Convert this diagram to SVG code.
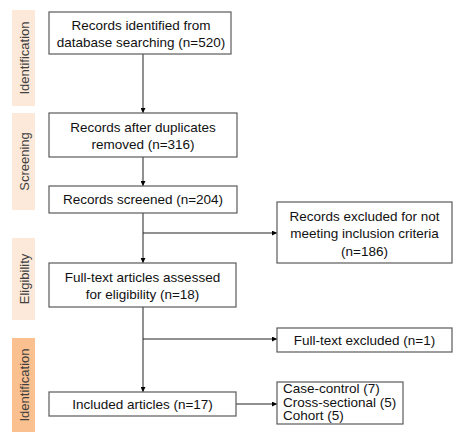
<svg xmlns="http://www.w3.org/2000/svg" width="459" height="438" viewBox="0 0 459 438">
<defs>
<marker id="ah" viewBox="0 0 8 8" refX="8" refY="4" markerWidth="5" markerHeight="5" orient="auto" markerUnits="userSpaceOnUse">
<path d="M0,0 L8,4 L0,8 z" fill="#000"/>
</marker>
<style>
.box{fill:#fff;stroke:#5a5a5a;stroke-width:1.2}
.t{font-family:"Liberation Sans",Arial,sans-serif;font-size:13.5px;fill:#111;text-anchor:middle}
.tl{font-family:"Liberation Sans",Arial,sans-serif;font-size:13.5px;fill:#111;text-anchor:start}
.lab{font-family:"Liberation Sans",Arial,sans-serif;font-size:13px;fill:#404040;text-anchor:middle}
.c{stroke:#222;stroke-width:1;fill:none}
.ca{stroke:#222;stroke-width:1;fill:none;marker-end:url(#ah)}
</style>
</defs>
<rect width="459" height="438" fill="#fff"/>
<g id="stage-identification">
<rect x="12" y="10" width="23" height="96" fill="#fde9d9"/>
<text class="lab" transform="translate(28.5,58) rotate(-90)">Identification</text>
</g>
<g id="stage-screening">
<rect x="12" y="113" width="23" height="97" fill="#fde9d9"/>
<text class="lab" transform="translate(28.5,161.5) rotate(-90)">Screening</text>
</g>
<g id="stage-eligibility">
<rect x="12" y="238" width="23" height="82" fill="#fde9d9"/>
<text class="lab" transform="translate(28.5,279) rotate(-90)">Eligibility</text>
</g>
<g id="stage-included">
<rect x="12" y="338" width="23" height="94" fill="#fac090"/>
<text class="lab" transform="translate(28.5,385) rotate(-90)">Identification</text>
</g>
<g id="connectors">
<line class="ca" x1="143" y1="54" x2="143" y2="113"/>
<line class="ca" x1="143" y1="157" x2="143" y2="186"/>
<line class="ca" x1="143" y1="213" x2="143" y2="263"/>
<line class="ca" x1="143" y1="233" x2="277" y2="233"/>
<line class="ca" x1="143" y1="307" x2="143" y2="392"/>
<line class="ca" x1="143" y1="339" x2="277" y2="339"/>
<line class="ca" x1="236" y1="404" x2="277" y2="404"/>
</g>
<g id="n1">
<rect class="box" x="49" y="12" width="182" height="42"/>
<text class="t" x="141" y="30">Records identified from</text>
<text class="t" x="141" y="47">database searching (n=520)</text>
</g>
<g id="n2">
<rect class="box" x="49" y="113" width="188" height="44"/>
<text class="t" x="143" y="131.5">Records after duplicates</text>
<text class="t" x="143" y="148.5">removed (n=316)</text>
</g>
<g id="n3">
<rect class="box" x="49" y="186" width="188" height="27"/>
<text class="t" x="143" y="204">Records screened (n=204)</text>
</g>
<g id="n4">
<rect class="box" x="49" y="263" width="187" height="44"/>
<text class="t" x="142.5" y="282">Full-text articles assessed</text>
<text class="t" x="142.5" y="299">for eligibility (n=18)</text>
</g>
<g id="n5">
<rect class="box" x="49" y="392" width="187" height="24"/>
<text class="t" x="142.5" y="409">Included articles (n=17)</text>
</g>
<g id="n6">
<rect class="box" x="277" y="202" width="175" height="61"/>
<text class="t" x="364.5" y="220.5">Records excluded for not</text>
<text class="t" x="364.5" y="238">meeting inclusion criteria</text>
<text class="t" x="364.5" y="255.5">(n=186)</text>
</g>
<g id="n7">
<rect class="box" x="277" y="328" width="175" height="24"/>
<text class="t" x="364.5" y="345">Full-text excluded (n=1)</text>
</g>
<g id="n8">
<rect class="box" x="277" y="382" width="126" height="42"/>
<text class="tl" x="283" y="393">Case-control (7)</text>
<text class="tl" x="283" y="406.5">Cross-sectional (5)</text>
<text class="tl" x="283" y="420">Cohort (5)</text>
</g>
</svg>
